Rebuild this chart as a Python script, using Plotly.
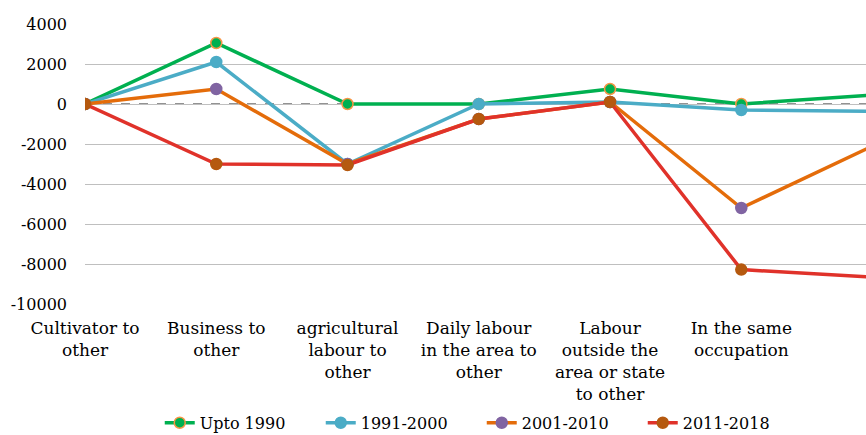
import plotly.graph_objects as go

categories = [
    "Cultivator to<br>other",
    "Business to<br>other",
    "agricultural<br>labour to<br>other",
    "Daily labour<br>in the area to<br>other",
    "Labour<br>outside the<br>area or state<br>to other",
    "In the same<br>occupation",
    "Total",
]

upto_1990 = [0, 3050, 0, 0, 750, 0, 450]
y1991_2000 = [0, 2100, -3000, 0, 100, -300, -370]
y2001_2010 = [0, 750, -3000, -750, 100, -5200, -2100]
y2011_2018 = [0, -3000, -3050, -750, 100, -8280, -8650]

y_ticks = [-10000, -8000, -6000, -4000, -2000, 0, 2000, 4000]
y_tick_text = ["-10000", "-8000", "-6000", "-4000", "-2000", "0", "2000", "4000"]

series = [
    ("Upto 1990", upto_1990, "#00B050", "#00B050", "#F79646"),
    ("1991-2000", y1991_2000, "#4BACC6", "#4BACC6", "#4BACC6"),
    ("2001-2010", y2001_2010, "#E46C0A", "#8064A2", "#8064A2"),
    ("2011-2018", y2011_2018, "#E0322A", "#B5590F", "#B5590F"),
]

x_idx = list(range(len(categories)))

fig = go.Figure()
for name, vals, lc, mc, mlc in series:
    fig.add_trace(go.Scatter(
        x=x_idx, y=vals, name=name, mode="lines+markers",
        line=dict(color=lc, width=3.5),
        marker=dict(size=11, color=mc, line=dict(color=mlc, width=1.5)),
    ))

fig.add_shape(type="line", xref="paper", yref="y", x0=0, x1=1, y0=0, y1=0,
              line=dict(color="white", width=2), layer="below")
fig.add_shape(type="line", xref="paper", yref="y", x0=0, x1=1, y0=0, y1=0,
              line=dict(color="#6F6F6F", width=1.3, dash="dash"), layer="below")

font = "DejaVu Serif"
fig.update_layout(
    width=866, height=435,
    margin=dict(l=85, r=0, t=24, b=131, autoexpand=False),
    paper_bgcolor="white", plot_bgcolor="white",
    font=dict(family=font, size=16, color="#000000"),
    showlegend=True,
    legend=dict(orientation="h", x=0.508, xanchor="center",
                yref="container", y=0.028, yanchor="middle",
                bgcolor="rgba(0,0,0,0)",
                entrywidth=116, font=dict(family=font, size=16, color="#000000")),
    xaxis=dict(
        tickmode="array", tickvals=x_idx, ticktext=categories,
        range=[0, 5.95], showgrid=False, zeroline=False, showline=False,
        ticks="", tickfont=dict(family=font, size=17, color="#000000"),
        ticklabelstandoff=12, automargin=False,
    ),
    yaxis=dict(
        range=[-10000, 4000], tickmode="array", tickvals=y_ticks, ticktext=y_tick_text,
        showgrid=True, gridcolor="#BFBFBF", gridwidth=1.3,
        zeroline=False, showline=False, ticks="", ticklabelstandoff=17,
        tickfont=dict(family=font, size=16, color="#000000"), automargin=False,
    ),
)

fig.write_html("out.html")
